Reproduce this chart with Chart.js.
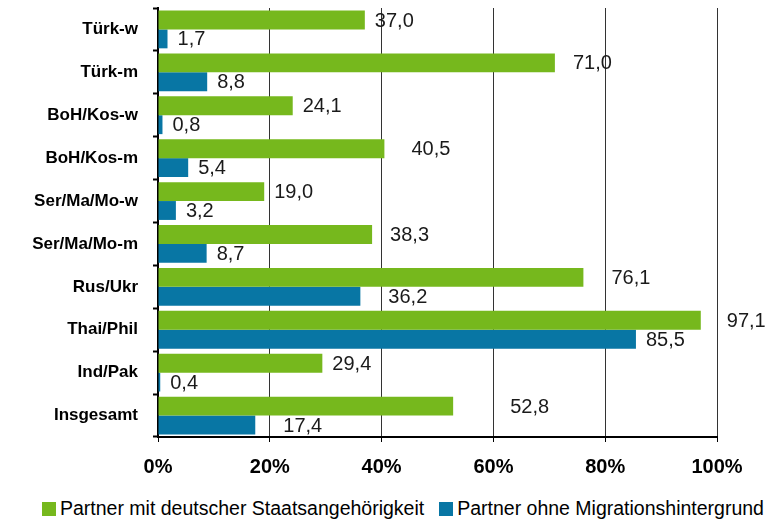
<!DOCTYPE html>
<html>
<head>
<meta charset="utf-8">
<script src="https://cdn.jsdelivr.net/npm/chart.js@4.4.1/dist/chart.umd.min.js"></script>
<style>
  html, body { margin: 0; padding: 0; background: #ffffff; }
  #wrap { width: 769px; height: 524px; }
  #chart { display: block; }
  #legend ul { list-style: none; margin: 0; padding: 0 0 0 42px; display: flex; height: 32px; align-items: center; }
  #legend li { display: inline-flex; align-items: center; margin-right: 15px; }
  #legend .box { display: block; width: 14px; height: 14px; margin-right: 4px; margin-top: 2px; }
  #legend .text { font-family: "Liberation Sans", Arial, sans-serif; font-size: 19.5px; color: #000; white-space: nowrap; }
</style>
</head>
<body>
<div id="wrap">
  <canvas id="chart" width="769" height="492"></canvas>
  <div id="legend"><ul></ul></div>
</div>
<script>
const categories = ['Türk-w', 'Türk-m', 'BoH/Kos-w', 'BoH/Kos-m', 'Ser/Ma/Mo-w', 'Ser/Ma/Mo-m', 'Rus/Ukr', 'Thai/Phil', 'Ind/Pak', 'Insgesamt'];
const germanPartner = [37.0, 71.0, 24.1, 40.5, 19.0, 38.3, 76.1, 97.1, 29.4, 52.8];
const nativePartner = [1.7, 8.8, 0.8, 5.4, 3.2, 8.7, 36.2, 85.5, 0.4, 17.4];
const xTicks = [0, 20, 40, 60, 80, 100];

// extra shift of some value labels, as in the original layout
const nudgeGreen = [0, 8, 0, 17, 0, 8, 18, 16, 0, 47];
const nudgeBlue = [0, 0, 0, 0, 0, 0, 18, 0, 0, 18];

const fontFamily = '"Liberation Sans", Arial, sans-serif';
const green = '#76b81d';
const blue = '#0876a4';

const valueLabels = {
    id: 'valueLabels',
    afterDatasetsDraw(c) {
        const ctx = c.ctx;
        ctx.save();
        ctx.font = '20px ' + fontFamily;
        ctx.fillStyle = '#1a1a1a';
        ctx.textAlign = 'left';
        ctx.textBaseline = 'middle';
        c.data.datasets.forEach((ds, di) => {
            const meta = c.getDatasetMeta(di);
            const nudges = di === 0 ? nudgeGreen : nudgeBlue;
            meta.data.forEach((bar, i) => {
                const txt = ds.data[i].toFixed(1).replace('.', ',');
                ctx.fillText(txt, bar.x + 10 + nudges[i], bar.y + 1);
            });
        });
        ctx.restore();
    }
};

const htmlLegend = {
    id: 'htmlLegend',
    afterUpdate(c) {
        const ul = document.querySelector('#legend ul');
        while (ul.firstChild) {
            ul.firstChild.remove();
        }
        const items = c.options.plugins.legend.labels.generateLabels(c);
        items.forEach((item) => {
            const li = document.createElement('li');
            const box = document.createElement('span');
            box.className = 'box';
            box.style.background = item.fillStyle;
            const label = document.createElement('span');
            label.className = 'text';
            label.appendChild(document.createTextNode(item.text));
            li.appendChild(box);
            li.appendChild(label);
            ul.appendChild(li);
        });
    }
};

new Chart(document.getElementById('chart'), {
    type: 'bar',
    data: {
        labels: categories,
        datasets: [
            {
                label: 'Partner mit deutscher Staatsangehörigkeit',
                data: germanPartner,
                backgroundColor: green,
                categoryPercentage: 0.88,
                barPercentage: 1,
            },
            {
                label: 'Partner ohne Migrationshintergrund',
                data: nativePartner,
                backgroundColor: blue,
                categoryPercentage: 0.88,
                barPercentage: 1,
            },
        ],
    },
    options: {
        indexAxis: 'y',
        responsive: false,
        animation: false,
        layout: {
            padding: { top: 8, right: 52, bottom: 3, left: 0 },
        },
        scales: {
            x: {
                min: 0,
                max: 100,
                afterBuildTicks: (scale) => {
                    scale.ticks = xTicks.map(v => ({ value: v }));
                },
                afterFit: (scale) => {
                    scale.height = 52;
                },
                border: { display: true, color: '#000000', width: 2 },
                grid: {
                    color: '#333333',
                    lineWidth: 1,
                    tickLength: 5,
                    tickColor: '#000000',
                },
                ticks: {
                    color: '#000000',
                    padding: 13,
                    font: { family: fontFamily, size: 20, weight: 'bold' },
                    callback: (value) => value + '%',
                },
            },
            y: {
                afterFit: (scale) => {
                    scale.width = 158;
                    scale.paddingTop = 0;
                    scale.paddingBottom = 0;
                },
                border: { display: true, color: '#000000', width: 2 },
                grid: {
                    drawOnChartArea: false,
                    tickLength: 5,
                    tickColor: '#000000',
                    tickWidth: 2,
                },
                ticks: {
                    color: '#000000',
                    padding: 15,
                    font: { family: fontFamily, size: 17, weight: 'bold' },
                },
            },
        },
        plugins: {
            legend: { display: false },
            tooltip: { enabled: false },
        },
    },
    plugins: [valueLabels, htmlLegend],
});
</script>
</body>
</html>
